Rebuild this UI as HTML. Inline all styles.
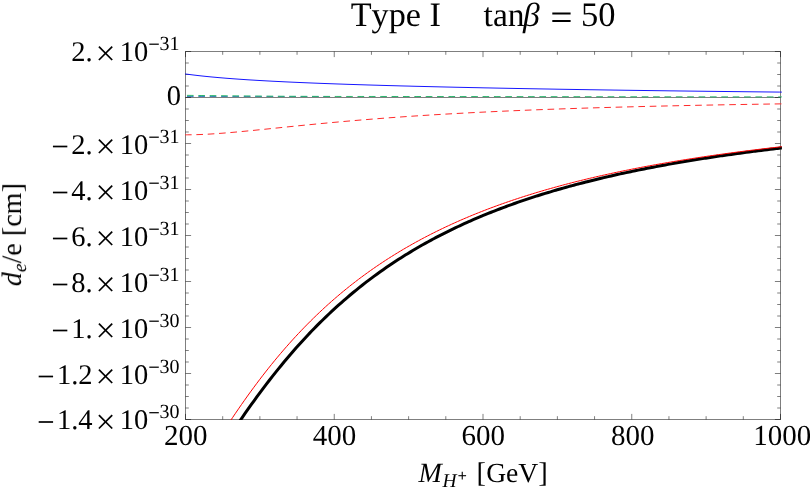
<!DOCTYPE html>
<html><head><meta charset="utf-8"><title>Type I tan beta = 50</title>
<style>html,body{margin:0;padding:0;background:#fff;}svg{display:block;}</style></head>
<body>
<svg width="810" height="489" viewBox="0 0 810 489">
<rect width="810" height="489" fill="#fff"/>
<g fill="none">
<rect x="185.50" y="51.50" width="595.00" height="368.00" stroke="#000" stroke-opacity="0.5" stroke-width="1"/>
<line x1="185.50" y1="97.50" x2="780.50" y2="97.50" stroke="#000" stroke-opacity="0.5" stroke-width="1"/>
<line x1="222.69" y1="419.50" x2="222.69" y2="416.20" stroke="#000" stroke-opacity="0.5" stroke-width="1"/>
<line x1="222.69" y1="51.50" x2="222.69" y2="54.80" stroke="#000" stroke-opacity="0.5" stroke-width="1"/>
<line x1="259.88" y1="419.50" x2="259.88" y2="416.20" stroke="#000" stroke-opacity="0.5" stroke-width="1"/>
<line x1="259.88" y1="51.50" x2="259.88" y2="54.80" stroke="#000" stroke-opacity="0.5" stroke-width="1"/>
<line x1="297.06" y1="419.50" x2="297.06" y2="416.20" stroke="#000" stroke-opacity="0.5" stroke-width="1"/>
<line x1="297.06" y1="51.50" x2="297.06" y2="54.80" stroke="#000" stroke-opacity="0.5" stroke-width="1"/>
<line x1="334.25" y1="419.50" x2="334.25" y2="413.90" stroke="#000" stroke-opacity="0.5" stroke-width="1"/>
<line x1="334.25" y1="51.50" x2="334.25" y2="57.10" stroke="#000" stroke-opacity="0.5" stroke-width="1"/>
<line x1="371.44" y1="419.50" x2="371.44" y2="416.20" stroke="#000" stroke-opacity="0.5" stroke-width="1"/>
<line x1="371.44" y1="51.50" x2="371.44" y2="54.80" stroke="#000" stroke-opacity="0.5" stroke-width="1"/>
<line x1="408.62" y1="419.50" x2="408.62" y2="416.20" stroke="#000" stroke-opacity="0.5" stroke-width="1"/>
<line x1="408.62" y1="51.50" x2="408.62" y2="54.80" stroke="#000" stroke-opacity="0.5" stroke-width="1"/>
<line x1="445.81" y1="419.50" x2="445.81" y2="416.20" stroke="#000" stroke-opacity="0.5" stroke-width="1"/>
<line x1="445.81" y1="51.50" x2="445.81" y2="54.80" stroke="#000" stroke-opacity="0.5" stroke-width="1"/>
<line x1="483.00" y1="419.50" x2="483.00" y2="413.90" stroke="#000" stroke-opacity="0.5" stroke-width="1"/>
<line x1="483.00" y1="51.50" x2="483.00" y2="57.10" stroke="#000" stroke-opacity="0.5" stroke-width="1"/>
<line x1="520.19" y1="419.50" x2="520.19" y2="416.20" stroke="#000" stroke-opacity="0.5" stroke-width="1"/>
<line x1="520.19" y1="51.50" x2="520.19" y2="54.80" stroke="#000" stroke-opacity="0.5" stroke-width="1"/>
<line x1="557.38" y1="419.50" x2="557.38" y2="416.20" stroke="#000" stroke-opacity="0.5" stroke-width="1"/>
<line x1="557.38" y1="51.50" x2="557.38" y2="54.80" stroke="#000" stroke-opacity="0.5" stroke-width="1"/>
<line x1="594.56" y1="419.50" x2="594.56" y2="416.20" stroke="#000" stroke-opacity="0.5" stroke-width="1"/>
<line x1="594.56" y1="51.50" x2="594.56" y2="54.80" stroke="#000" stroke-opacity="0.5" stroke-width="1"/>
<line x1="631.75" y1="419.50" x2="631.75" y2="413.90" stroke="#000" stroke-opacity="0.5" stroke-width="1"/>
<line x1="631.75" y1="51.50" x2="631.75" y2="57.10" stroke="#000" stroke-opacity="0.5" stroke-width="1"/>
<line x1="668.94" y1="419.50" x2="668.94" y2="416.20" stroke="#000" stroke-opacity="0.5" stroke-width="1"/>
<line x1="668.94" y1="51.50" x2="668.94" y2="54.80" stroke="#000" stroke-opacity="0.5" stroke-width="1"/>
<line x1="706.12" y1="419.50" x2="706.12" y2="416.20" stroke="#000" stroke-opacity="0.5" stroke-width="1"/>
<line x1="706.12" y1="51.50" x2="706.12" y2="54.80" stroke="#000" stroke-opacity="0.5" stroke-width="1"/>
<line x1="743.31" y1="419.50" x2="743.31" y2="416.20" stroke="#000" stroke-opacity="0.5" stroke-width="1"/>
<line x1="743.31" y1="51.50" x2="743.31" y2="54.80" stroke="#000" stroke-opacity="0.5" stroke-width="1"/>
<line x1="185.50" y1="419.50" x2="191.10" y2="419.50" stroke="#000" stroke-opacity="0.5" stroke-width="1"/>
<line x1="780.50" y1="419.50" x2="774.90" y2="419.50" stroke="#000" stroke-opacity="0.5" stroke-width="1"/>
<line x1="185.50" y1="408.00" x2="188.80" y2="408.00" stroke="#000" stroke-opacity="0.5" stroke-width="1"/>
<line x1="780.50" y1="408.00" x2="777.20" y2="408.00" stroke="#000" stroke-opacity="0.5" stroke-width="1"/>
<line x1="185.50" y1="396.50" x2="188.80" y2="396.50" stroke="#000" stroke-opacity="0.5" stroke-width="1"/>
<line x1="780.50" y1="396.50" x2="777.20" y2="396.50" stroke="#000" stroke-opacity="0.5" stroke-width="1"/>
<line x1="185.50" y1="385.00" x2="188.80" y2="385.00" stroke="#000" stroke-opacity="0.5" stroke-width="1"/>
<line x1="780.50" y1="385.00" x2="777.20" y2="385.00" stroke="#000" stroke-opacity="0.5" stroke-width="1"/>
<line x1="185.50" y1="373.50" x2="191.10" y2="373.50" stroke="#000" stroke-opacity="0.5" stroke-width="1"/>
<line x1="780.50" y1="373.50" x2="774.90" y2="373.50" stroke="#000" stroke-opacity="0.5" stroke-width="1"/>
<line x1="185.50" y1="362.00" x2="188.80" y2="362.00" stroke="#000" stroke-opacity="0.5" stroke-width="1"/>
<line x1="780.50" y1="362.00" x2="777.20" y2="362.00" stroke="#000" stroke-opacity="0.5" stroke-width="1"/>
<line x1="185.50" y1="350.50" x2="188.80" y2="350.50" stroke="#000" stroke-opacity="0.5" stroke-width="1"/>
<line x1="780.50" y1="350.50" x2="777.20" y2="350.50" stroke="#000" stroke-opacity="0.5" stroke-width="1"/>
<line x1="185.50" y1="339.00" x2="188.80" y2="339.00" stroke="#000" stroke-opacity="0.5" stroke-width="1"/>
<line x1="780.50" y1="339.00" x2="777.20" y2="339.00" stroke="#000" stroke-opacity="0.5" stroke-width="1"/>
<line x1="185.50" y1="327.50" x2="191.10" y2="327.50" stroke="#000" stroke-opacity="0.5" stroke-width="1"/>
<line x1="780.50" y1="327.50" x2="774.90" y2="327.50" stroke="#000" stroke-opacity="0.5" stroke-width="1"/>
<line x1="185.50" y1="316.00" x2="188.80" y2="316.00" stroke="#000" stroke-opacity="0.5" stroke-width="1"/>
<line x1="780.50" y1="316.00" x2="777.20" y2="316.00" stroke="#000" stroke-opacity="0.5" stroke-width="1"/>
<line x1="185.50" y1="304.50" x2="188.80" y2="304.50" stroke="#000" stroke-opacity="0.5" stroke-width="1"/>
<line x1="780.50" y1="304.50" x2="777.20" y2="304.50" stroke="#000" stroke-opacity="0.5" stroke-width="1"/>
<line x1="185.50" y1="293.00" x2="188.80" y2="293.00" stroke="#000" stroke-opacity="0.5" stroke-width="1"/>
<line x1="780.50" y1="293.00" x2="777.20" y2="293.00" stroke="#000" stroke-opacity="0.5" stroke-width="1"/>
<line x1="185.50" y1="281.50" x2="191.10" y2="281.50" stroke="#000" stroke-opacity="0.5" stroke-width="1"/>
<line x1="780.50" y1="281.50" x2="774.90" y2="281.50" stroke="#000" stroke-opacity="0.5" stroke-width="1"/>
<line x1="185.50" y1="270.00" x2="188.80" y2="270.00" stroke="#000" stroke-opacity="0.5" stroke-width="1"/>
<line x1="780.50" y1="270.00" x2="777.20" y2="270.00" stroke="#000" stroke-opacity="0.5" stroke-width="1"/>
<line x1="185.50" y1="258.50" x2="188.80" y2="258.50" stroke="#000" stroke-opacity="0.5" stroke-width="1"/>
<line x1="780.50" y1="258.50" x2="777.20" y2="258.50" stroke="#000" stroke-opacity="0.5" stroke-width="1"/>
<line x1="185.50" y1="247.00" x2="188.80" y2="247.00" stroke="#000" stroke-opacity="0.5" stroke-width="1"/>
<line x1="780.50" y1="247.00" x2="777.20" y2="247.00" stroke="#000" stroke-opacity="0.5" stroke-width="1"/>
<line x1="185.50" y1="235.50" x2="191.10" y2="235.50" stroke="#000" stroke-opacity="0.5" stroke-width="1"/>
<line x1="780.50" y1="235.50" x2="774.90" y2="235.50" stroke="#000" stroke-opacity="0.5" stroke-width="1"/>
<line x1="185.50" y1="224.00" x2="188.80" y2="224.00" stroke="#000" stroke-opacity="0.5" stroke-width="1"/>
<line x1="780.50" y1="224.00" x2="777.20" y2="224.00" stroke="#000" stroke-opacity="0.5" stroke-width="1"/>
<line x1="185.50" y1="212.50" x2="188.80" y2="212.50" stroke="#000" stroke-opacity="0.5" stroke-width="1"/>
<line x1="780.50" y1="212.50" x2="777.20" y2="212.50" stroke="#000" stroke-opacity="0.5" stroke-width="1"/>
<line x1="185.50" y1="201.00" x2="188.80" y2="201.00" stroke="#000" stroke-opacity="0.5" stroke-width="1"/>
<line x1="780.50" y1="201.00" x2="777.20" y2="201.00" stroke="#000" stroke-opacity="0.5" stroke-width="1"/>
<line x1="185.50" y1="189.50" x2="191.10" y2="189.50" stroke="#000" stroke-opacity="0.5" stroke-width="1"/>
<line x1="780.50" y1="189.50" x2="774.90" y2="189.50" stroke="#000" stroke-opacity="0.5" stroke-width="1"/>
<line x1="185.50" y1="178.00" x2="188.80" y2="178.00" stroke="#000" stroke-opacity="0.5" stroke-width="1"/>
<line x1="780.50" y1="178.00" x2="777.20" y2="178.00" stroke="#000" stroke-opacity="0.5" stroke-width="1"/>
<line x1="185.50" y1="166.50" x2="188.80" y2="166.50" stroke="#000" stroke-opacity="0.5" stroke-width="1"/>
<line x1="780.50" y1="166.50" x2="777.20" y2="166.50" stroke="#000" stroke-opacity="0.5" stroke-width="1"/>
<line x1="185.50" y1="155.00" x2="188.80" y2="155.00" stroke="#000" stroke-opacity="0.5" stroke-width="1"/>
<line x1="780.50" y1="155.00" x2="777.20" y2="155.00" stroke="#000" stroke-opacity="0.5" stroke-width="1"/>
<line x1="185.50" y1="143.50" x2="191.10" y2="143.50" stroke="#000" stroke-opacity="0.5" stroke-width="1"/>
<line x1="780.50" y1="143.50" x2="774.90" y2="143.50" stroke="#000" stroke-opacity="0.5" stroke-width="1"/>
<line x1="185.50" y1="132.00" x2="188.80" y2="132.00" stroke="#000" stroke-opacity="0.5" stroke-width="1"/>
<line x1="780.50" y1="132.00" x2="777.20" y2="132.00" stroke="#000" stroke-opacity="0.5" stroke-width="1"/>
<line x1="185.50" y1="120.50" x2="188.80" y2="120.50" stroke="#000" stroke-opacity="0.5" stroke-width="1"/>
<line x1="780.50" y1="120.50" x2="777.20" y2="120.50" stroke="#000" stroke-opacity="0.5" stroke-width="1"/>
<line x1="185.50" y1="109.00" x2="188.80" y2="109.00" stroke="#000" stroke-opacity="0.5" stroke-width="1"/>
<line x1="780.50" y1="109.00" x2="777.20" y2="109.00" stroke="#000" stroke-opacity="0.5" stroke-width="1"/>
<line x1="185.50" y1="97.50" x2="191.10" y2="97.50" stroke="#000" stroke-opacity="0.5" stroke-width="1"/>
<line x1="780.50" y1="97.50" x2="774.90" y2="97.50" stroke="#000" stroke-opacity="0.5" stroke-width="1"/>
<line x1="185.50" y1="86.00" x2="188.80" y2="86.00" stroke="#000" stroke-opacity="0.5" stroke-width="1"/>
<line x1="780.50" y1="86.00" x2="777.20" y2="86.00" stroke="#000" stroke-opacity="0.5" stroke-width="1"/>
<line x1="185.50" y1="74.50" x2="188.80" y2="74.50" stroke="#000" stroke-opacity="0.5" stroke-width="1"/>
<line x1="780.50" y1="74.50" x2="777.20" y2="74.50" stroke="#000" stroke-opacity="0.5" stroke-width="1"/>
<line x1="185.50" y1="63.00" x2="188.80" y2="63.00" stroke="#000" stroke-opacity="0.5" stroke-width="1"/>
<line x1="780.50" y1="63.00" x2="777.20" y2="63.00" stroke="#000" stroke-opacity="0.5" stroke-width="1"/>
<line x1="185.50" y1="51.50" x2="191.10" y2="51.50" stroke="#000" stroke-opacity="0.5" stroke-width="1"/>
<line x1="780.50" y1="51.50" x2="774.90" y2="51.50" stroke="#000" stroke-opacity="0.5" stroke-width="1"/>
<line x1="185.50" y1="419.50" x2="185.50" y2="413.90" stroke="#000" stroke-opacity="0.5" stroke-width="1"/>
<line x1="185.50" y1="51.50" x2="185.50" y2="57.10" stroke="#000" stroke-opacity="0.5" stroke-width="1"/>
<line x1="780.50" y1="419.50" x2="780.50" y2="413.90" stroke="#000" stroke-opacity="0.5" stroke-width="1"/>
<line x1="780.50" y1="51.50" x2="780.50" y2="57.10" stroke="#000" stroke-opacity="0.5" stroke-width="1"/>
</g>
<defs><clipPath id="pc"><rect x="185.00" y="51.50" width="596.90" height="368.40"/></clipPath></defs>
<g fill="none" clip-path="url(#pc)">
<path d="M185.00,73.90 C185.50,73.97 187.00,74.18 188.00,74.31 C189.00,74.44 190.00,74.57 191.00,74.70 C192.00,74.83 193.00,74.95 194.00,75.07 C195.00,75.19 196.00,75.31 197.00,75.43 C198.00,75.54 199.00,75.66 200.00,75.77 C201.00,75.88 202.00,75.99 203.00,76.10 C204.00,76.20 205.00,76.31 206.00,76.41 C207.00,76.51 208.00,76.61 209.00,76.71 C210.00,76.81 211.00,76.91 212.00,77.00 C213.00,77.10 214.00,77.19 215.00,77.28 C216.00,77.37 217.00,77.46 218.00,77.55 C219.00,77.64 220.00,77.72 221.00,77.81 C222.00,77.89 223.00,77.98 224.00,78.06 C225.00,78.14 226.00,78.22 227.00,78.30 C228.00,78.38 229.00,78.46 230.00,78.53 C231.00,78.61 232.00,78.69 233.00,78.76 C234.00,78.84 235.00,78.91 236.00,78.98 C237.00,79.05 238.00,79.12 239.00,79.19 C240.00,79.26 241.00,79.33 242.00,79.40 C243.00,79.47 244.00,79.54 245.00,79.60 C246.00,79.67 247.00,79.73 248.00,79.80 C249.00,79.86 250.00,79.92 251.00,79.99 C252.00,80.05 253.00,80.11 254.00,80.17 C255.00,80.23 256.00,80.29 257.00,80.35 C258.00,80.41 259.00,80.47 260.00,80.53 C261.00,80.58 262.00,80.64 263.00,80.70 C264.00,80.75 265.00,80.81 266.00,80.86 C267.00,80.92 268.00,80.97 269.00,81.03 C270.00,81.08 271.00,81.13 272.00,81.19 C273.00,81.24 274.00,81.29 275.00,81.34 C276.00,81.39 277.00,81.44 278.00,81.49 C279.00,81.54 280.00,81.59 281.00,81.64 C282.00,81.69 283.00,81.74 284.00,81.79 C285.00,81.84 286.00,81.88 287.00,81.93 C288.00,81.98 289.00,82.02 290.00,82.07 C291.00,82.12 292.00,82.16 293.00,82.21 C294.00,82.25 295.00,82.30 296.00,82.34 C297.00,82.39 298.00,82.43 299.00,82.47 C300.00,82.52 301.00,82.56 302.00,82.60 C303.00,82.64 304.00,82.69 305.00,82.73 C306.00,82.77 307.00,82.81 308.00,82.85 C309.00,82.89 310.00,82.94 311.00,82.98 C312.00,83.02 313.00,83.06 314.00,83.10 C315.00,83.14 316.00,83.17 317.00,83.21 C318.00,83.25 319.00,83.29 320.00,83.33 C321.00,83.37 322.00,83.41 323.00,83.44 C324.00,83.48 325.00,83.52 326.00,83.56 C327.00,83.59 328.00,83.63 329.00,83.67 C330.00,83.70 331.00,83.74 332.00,83.78 C333.00,83.81 334.00,83.85 335.00,83.88 C336.00,83.92 337.00,83.95 338.00,83.99 C339.00,84.02 340.00,84.06 341.00,84.09 C342.00,84.13 343.00,84.16 344.00,84.20 C345.00,84.23 346.00,84.26 347.00,84.30 C348.00,84.33 349.00,84.36 350.00,84.40 C351.00,84.43 352.00,84.46 353.00,84.49 C354.00,84.53 355.00,84.56 356.00,84.59 C357.00,84.62 358.00,84.66 359.00,84.69 C360.00,84.72 361.00,84.75 362.00,84.78 C363.00,84.81 364.00,84.84 365.00,84.87 C366.00,84.90 367.00,84.94 368.00,84.97 C369.00,85.00 370.00,85.03 371.00,85.06 C372.00,85.09 373.00,85.12 374.00,85.15 C375.00,85.18 376.00,85.21 377.00,85.23 C378.00,85.26 379.00,85.29 380.00,85.32 C381.00,85.35 382.00,85.38 383.00,85.41 C384.00,85.44 385.00,85.47 386.00,85.49 C387.00,85.52 388.00,85.55 389.00,85.58 C390.00,85.61 391.00,85.63 392.00,85.66 C393.00,85.69 394.00,85.72 395.00,85.74 C396.00,85.77 397.00,85.80 398.00,85.82 C399.00,85.85 400.00,85.88 401.00,85.91 C402.00,85.93 403.00,85.96 404.00,85.99 C405.00,86.01 406.00,86.04 407.00,86.06 C408.00,86.09 409.00,86.12 410.00,86.14 C411.00,86.17 412.00,86.19 413.00,86.22 C414.00,86.24 415.00,86.27 416.00,86.30 C417.00,86.32 418.00,86.35 419.00,86.37 C420.00,86.40 421.00,86.42 422.00,86.45 C423.00,86.47 424.00,86.49 425.00,86.52 C426.00,86.54 427.00,86.57 428.00,86.59 C429.00,86.62 430.00,86.64 431.00,86.66 C432.00,86.69 433.00,86.71 434.00,86.74 C435.00,86.76 436.00,86.78 437.00,86.81 C438.00,86.83 439.00,86.85 440.00,86.88 C441.00,86.90 442.00,86.92 443.00,86.95 C444.00,86.97 445.00,86.99 446.00,87.02 C447.00,87.04 448.00,87.06 449.00,87.08 C450.00,87.11 451.00,87.13 452.00,87.15 C453.00,87.17 454.00,87.20 455.00,87.22 C456.00,87.24 457.00,87.26 458.00,87.29 C459.00,87.31 460.00,87.33 461.00,87.35 C462.00,87.37 463.00,87.39 464.00,87.42 C465.00,87.44 466.00,87.46 467.00,87.48 C468.00,87.50 469.00,87.52 470.00,87.55 C471.00,87.57 472.00,87.59 473.00,87.61 C474.00,87.63 475.00,87.65 476.00,87.67 C477.00,87.69 478.00,87.71 479.00,87.73 C480.00,87.75 481.00,87.78 482.00,87.80 C483.00,87.82 484.00,87.84 485.00,87.86 C486.00,87.88 487.00,87.90 488.00,87.92 C489.00,87.94 490.00,87.96 491.00,87.98 C492.00,88.00 493.00,88.02 494.00,88.04 C495.00,88.06 496.00,88.08 497.00,88.10 C498.00,88.12 499.00,88.14 500.00,88.16 C501.00,88.18 502.00,88.19 503.00,88.21 C504.00,88.23 505.00,88.25 506.00,88.27 C507.00,88.29 508.00,88.31 509.00,88.33 C510.00,88.35 511.00,88.37 512.00,88.39 C513.00,88.40 514.00,88.42 515.00,88.44 C516.00,88.46 517.00,88.48 518.00,88.50 C519.00,88.52 520.00,88.53 521.00,88.55 C522.00,88.57 523.00,88.59 524.00,88.61 C525.00,88.63 526.00,88.64 527.00,88.66 C528.00,88.68 529.00,88.70 530.00,88.72 C531.00,88.73 532.00,88.75 533.00,88.77 C534.00,88.79 535.00,88.81 536.00,88.82 C537.00,88.84 538.00,88.86 539.00,88.88 C540.00,88.89 541.00,88.91 542.00,88.93 C543.00,88.95 544.00,88.96 545.00,88.98 C546.00,89.00 547.00,89.02 548.00,89.03 C549.00,89.05 550.00,89.07 551.00,89.08 C552.00,89.10 553.00,89.12 554.00,89.14 C555.00,89.15 556.00,89.17 557.00,89.19 C558.00,89.20 559.00,89.22 560.00,89.24 C561.00,89.25 562.00,89.27 563.00,89.29 C564.00,89.30 565.00,89.32 566.00,89.33 C567.00,89.35 568.00,89.37 569.00,89.38 C570.00,89.40 571.00,89.42 572.00,89.43 C573.00,89.45 574.00,89.46 575.00,89.48 C576.00,89.50 577.00,89.51 578.00,89.53 C579.00,89.54 580.00,89.56 581.00,89.58 C582.00,89.59 583.00,89.61 584.00,89.62 C585.00,89.64 586.00,89.65 587.00,89.67 C588.00,89.69 589.00,89.70 590.00,89.72 C591.00,89.73 592.00,89.75 593.00,89.76 C594.00,89.78 595.00,89.79 596.00,89.81 C597.00,89.82 598.00,89.84 599.00,89.85 C600.00,89.87 601.00,89.88 602.00,89.90 C603.00,89.91 604.00,89.93 605.00,89.94 C606.00,89.96 607.00,89.97 608.00,89.99 C609.00,90.00 610.00,90.02 611.00,90.03 C612.00,90.05 613.00,90.06 614.00,90.08 C615.00,90.09 616.00,90.11 617.00,90.12 C618.00,90.13 619.00,90.15 620.00,90.16 C621.00,90.18 622.00,90.19 623.00,90.21 C624.00,90.22 625.00,90.24 626.00,90.25 C627.00,90.26 628.00,90.28 629.00,90.29 C630.00,90.31 631.00,90.32 632.00,90.33 C633.00,90.35 634.00,90.36 635.00,90.38 C636.00,90.39 637.00,90.40 638.00,90.42 C639.00,90.43 640.00,90.44 641.00,90.46 C642.00,90.47 643.00,90.49 644.00,90.50 C645.00,90.51 646.00,90.53 647.00,90.54 C648.00,90.55 649.00,90.57 650.00,90.58 C651.00,90.59 652.00,90.61 653.00,90.62 C654.00,90.63 655.00,90.65 656.00,90.66 C657.00,90.67 658.00,90.69 659.00,90.70 C660.00,90.71 661.00,90.73 662.00,90.74 C663.00,90.75 664.00,90.77 665.00,90.78 C666.00,90.79 667.00,90.80 668.00,90.82 C669.00,90.83 670.00,90.84 671.00,90.86 C672.00,90.87 673.00,90.88 674.00,90.89 C675.00,90.91 676.00,90.92 677.00,90.93 C678.00,90.94 679.00,90.96 680.00,90.97 C681.00,90.98 682.00,90.99 683.00,91.01 C684.00,91.02 685.00,91.03 686.00,91.04 C687.00,91.06 688.00,91.07 689.00,91.08 C690.00,91.09 691.00,91.11 692.00,91.12 C693.00,91.13 694.00,91.14 695.00,91.15 C696.00,91.17 697.00,91.18 698.00,91.19 C699.00,91.20 700.00,91.22 701.00,91.23 C702.00,91.24 703.00,91.25 704.00,91.26 C705.00,91.27 706.00,91.29 707.00,91.30 C708.00,91.31 709.00,91.32 710.00,91.33 C711.00,91.35 712.00,91.36 713.00,91.37 C714.00,91.38 715.00,91.39 716.00,91.40 C717.00,91.42 718.00,91.43 719.00,91.44 C720.00,91.45 721.00,91.46 722.00,91.47 C723.00,91.48 724.00,91.50 725.00,91.51 C726.00,91.52 727.00,91.53 728.00,91.54 C729.00,91.55 730.00,91.56 731.00,91.57 C732.00,91.59 733.00,91.60 734.00,91.61 C735.00,91.62 736.00,91.63 737.00,91.64 C738.00,91.65 739.00,91.66 740.00,91.67 C741.00,91.69 742.00,91.70 743.00,91.71 C744.00,91.72 745.00,91.73 746.00,91.74 C747.00,91.75 748.00,91.76 749.00,91.77 C750.00,91.78 751.00,91.79 752.00,91.80 C753.00,91.82 754.00,91.83 755.00,91.84 C756.00,91.85 757.00,91.86 758.00,91.87 C759.00,91.88 760.00,91.89 761.00,91.90 C762.00,91.91 763.00,91.92 764.00,91.93 C765.00,91.94 766.00,91.95 767.00,91.96 C768.00,91.97 769.00,91.98 770.00,91.99 C771.00,92.00 772.00,92.01 773.00,92.02 C774.00,92.04 775.00,92.05 776.00,92.06 C777.00,92.07 778.00,92.08 779.00,92.09 C780.00,92.10 781.50,92.11 782.00,92.12" stroke="#0000ff" stroke-width="0.92"/>
<path d="M186.95,96.50 L191.95,96.50 L196.95,96.50 L201.95,96.50 L206.95,96.50 L211.95,96.50 L216.95,96.50 L221.95,96.50 L226.95,96.50 L231.95,96.50 L236.95,96.50 L241.95,96.50 L246.95,96.50 L251.95,96.50 L256.95,96.50 L261.95,96.50 L266.95,96.50 L271.95,96.50 L276.95,96.50 L281.95,96.50 L286.95,96.50 L291.95,96.50 L296.95,96.50 L301.95,96.50 L306.95,96.50 L311.95,96.50 L316.95,96.50 L321.95,96.50 L326.95,96.50 L331.95,96.50" stroke="#3c82be" stroke-width="1" stroke-dasharray="6.65 4.72"/>
<path d="M186.95,95.36 L191.95,95.42 L196.95,95.47 L201.95,95.52 L206.95,95.57 L211.95,95.62 L216.95,95.67 L221.95,95.72 L226.95,95.77 L231.95,95.82 L236.95,95.86 L241.95,95.90 L246.95,95.95 L251.95,95.99 L256.95,96.03 L261.95,96.08 L266.95,96.12 L271.95,96.16 L276.95,96.20 L281.95,96.25 L286.95,96.27 L291.95,96.29 L296.95,96.31 L301.95,96.33 L306.95,96.35 L311.95,96.36 L316.95,96.38 L321.95,96.40 L326.95,96.42 L331.95,96.44 L336.95,96.45 L341.95,96.46 L346.95,96.46 L351.95,96.46 L356.95,96.47 L361.95,96.47 L366.95,96.47 L371.95,96.48 L376.95,96.48 L381.95,96.48 L386.95,96.49 L391.95,96.49 L396.95,96.49 L401.95,96.50 L406.95,96.50 L411.95,96.50 L416.95,96.51 L421.95,96.51 L426.95,96.52 L431.95,96.52 L436.95,96.53 L441.95,96.53 L446.95,96.53 L451.95,96.54 L456.95,96.54 L461.95,96.55 L466.95,96.55 L471.95,96.56 L476.95,96.56 L481.95,96.57 L486.95,96.57 L491.95,96.57 L496.95,96.58 L501.95,96.59 L506.95,96.59 L511.95,96.60 L516.95,96.60 L521.95,96.61 L526.95,96.62 L531.95,96.62 L536.95,96.63 L541.95,96.64 L546.95,96.64 L551.95,96.65 L556.95,96.66 L561.95,96.66 L566.95,96.67 L571.95,96.67 L576.95,96.68 L581.95,96.69 L586.95,96.69 L591.95,96.70 L596.95,96.71 L601.95,96.71 L606.95,96.72 L611.95,96.72 L616.95,96.73 L621.95,96.74 L626.95,96.74 L631.95,96.75 L636.95,96.76 L641.95,96.76 L646.95,96.77 L651.95,96.77 L656.95,96.78 L661.95,96.78 L666.95,96.79 L671.95,96.80 L676.95,96.80 L681.95,96.81 L686.95,96.81 L691.95,96.82 L696.95,96.82 L701.95,96.83 L706.95,96.84 L711.95,96.84 L716.95,96.85 L721.95,96.85 L726.95,96.86 L731.95,96.86 L736.95,96.87 L741.95,96.88 L746.95,96.88 L751.95,96.89 L756.95,96.89 L761.95,96.90 L766.95,96.90 L771.95,96.91 L776.95,96.92 L781.95,96.92" stroke="#2ab46c" stroke-width="1" stroke-dasharray="6.65 4.72"/>
<path d="M185.00,134.81 C185.50,134.81 187.00,134.82 188.00,134.81 C189.00,134.81 190.00,134.80 191.00,134.78 C192.00,134.77 193.00,134.75 194.00,134.73 C195.00,134.70 196.00,134.68 197.00,134.64 C198.00,134.61 199.00,134.58 200.00,134.54 C201.00,134.50 202.00,134.46 203.00,134.41 C204.00,134.37 205.00,134.32 206.00,134.27 C207.00,134.22 208.00,134.16 209.00,134.11 C210.00,134.05 211.00,133.99 212.00,133.93 C213.00,133.87 214.00,133.80 215.00,133.73 C216.00,133.67 217.00,133.60 218.00,133.53 C219.00,133.45 220.00,133.38 221.00,133.31 C222.00,133.23 223.00,133.15 224.00,133.07 C225.00,132.99 226.00,132.91 227.00,132.83 C228.00,132.75 229.00,132.66 230.00,132.58 C231.00,132.49 232.00,132.41 233.00,132.32 C234.00,132.23 235.00,132.14 236.00,132.05 C237.00,131.96 238.00,131.87 239.00,131.78 C240.00,131.68 241.00,131.59 242.00,131.49 C243.00,131.40 244.00,131.31 245.00,131.21 C246.00,131.11 247.00,131.02 248.00,130.92 C249.00,130.82 250.00,130.72 251.00,130.62 C252.00,130.52 253.00,130.43 254.00,130.33 C255.00,130.23 256.00,130.13 257.00,130.02 C258.00,129.92 259.00,129.82 260.00,129.72 C261.00,129.62 262.00,129.52 263.00,129.42 C264.00,129.31 265.00,129.21 266.00,129.11 C267.00,129.01 268.00,128.90 269.00,128.80 C270.00,128.70 271.00,128.60 272.00,128.49 C273.00,128.39 274.00,128.29 275.00,128.18 C276.00,128.08 277.00,127.98 278.00,127.88 C279.00,127.77 280.00,127.67 281.00,127.57 C282.00,127.46 283.00,127.36 284.00,127.26 C285.00,127.16 286.00,127.05 287.00,126.95 C288.00,126.85 289.00,126.75 290.00,126.64 C291.00,126.54 292.00,126.44 293.00,126.34 C294.00,126.24 295.00,126.14 296.00,126.03 C297.00,125.93 298.00,125.83 299.00,125.73 C300.00,125.63 301.00,125.53 302.00,125.43 C303.00,125.33 304.00,125.23 305.00,125.13 C306.00,125.03 307.00,124.93 308.00,124.84 C309.00,124.74 310.00,124.64 311.00,124.54 C312.00,124.44 313.00,124.35 314.00,124.25 C315.00,124.15 316.00,124.05 317.00,123.96 C318.00,123.86 319.00,123.77 320.00,123.67 C321.00,123.57 322.00,123.48 323.00,123.38 C324.00,123.29 325.00,123.20 326.00,123.10 C327.00,123.01 328.00,122.91 329.00,122.82 C330.00,122.73 331.00,122.64 332.00,122.54 C333.00,122.45 334.00,122.36 335.00,122.27 C336.00,122.18 337.00,122.09 338.00,122.00 C339.00,121.91 340.00,121.82 341.00,121.73 C342.00,121.64 343.00,121.55 344.00,121.46 C345.00,121.37 346.00,121.29 347.00,121.20 C348.00,121.11 349.00,121.02 350.00,120.94 C351.00,120.85 352.00,120.77 353.00,120.68 C354.00,120.59 355.00,120.51 356.00,120.43 C357.00,120.34 358.00,120.26 359.00,120.17 C360.00,120.09 361.00,120.01 362.00,119.92 C363.00,119.84 364.00,119.76 365.00,119.68 C366.00,119.60 367.00,119.52 368.00,119.44 C369.00,119.35 370.00,119.27 371.00,119.20 C372.00,119.12 373.00,119.04 374.00,118.96 C375.00,118.88 376.00,118.80 377.00,118.72 C378.00,118.65 379.00,118.57 380.00,118.49 C381.00,118.42 382.00,118.34 383.00,118.26 C384.00,118.19 385.00,118.11 386.00,118.04 C387.00,117.96 388.00,117.89 389.00,117.81 C390.00,117.74 391.00,117.67 392.00,117.59 C393.00,117.52 394.00,117.45 395.00,117.38 C396.00,117.31 397.00,117.23 398.00,117.16 C399.00,117.09 400.00,117.02 401.00,116.95 C402.00,116.88 403.00,116.81 404.00,116.74 C405.00,116.67 406.00,116.60 407.00,116.54 C408.00,116.47 409.00,116.40 410.00,116.33 C411.00,116.26 412.00,116.20 413.00,116.13 C414.00,116.06 415.00,116.00 416.00,115.93 C417.00,115.87 418.00,115.80 419.00,115.74 C420.00,115.67 421.00,115.61 422.00,115.54 C423.00,115.48 424.00,115.42 425.00,115.35 C426.00,115.29 427.00,115.23 428.00,115.16 C429.00,115.10 430.00,115.04 431.00,114.98 C432.00,114.92 433.00,114.86 434.00,114.80 C435.00,114.73 436.00,114.67 437.00,114.61 C438.00,114.55 439.00,114.50 440.00,114.44 C441.00,114.38 442.00,114.32 443.00,114.26 C444.00,114.20 445.00,114.14 446.00,114.09 C447.00,114.03 448.00,113.97 449.00,113.92 C450.00,113.86 451.00,113.80 452.00,113.75 C453.00,113.69 454.00,113.63 455.00,113.58 C456.00,113.52 457.00,113.47 458.00,113.41 C459.00,113.36 460.00,113.31 461.00,113.25 C462.00,113.20 463.00,113.15 464.00,113.09 C465.00,113.04 466.00,112.99 467.00,112.93 C468.00,112.88 469.00,112.83 470.00,112.78 C471.00,112.73 472.00,112.68 473.00,112.62 C474.00,112.57 475.00,112.52 476.00,112.47 C477.00,112.42 478.00,112.37 479.00,112.32 C480.00,112.27 481.00,112.22 482.00,112.18 C483.00,112.13 484.00,112.08 485.00,112.03 C486.00,111.98 487.00,111.93 488.00,111.89 C489.00,111.84 490.00,111.79 491.00,111.74 C492.00,111.70 493.00,111.65 494.00,111.60 C495.00,111.56 496.00,111.51 497.00,111.46 C498.00,111.42 499.00,111.37 500.00,111.33 C501.00,111.28 502.00,111.24 503.00,111.19 C504.00,111.15 505.00,111.11 506.00,111.06 C507.00,111.02 508.00,110.97 509.00,110.93 C510.00,110.89 511.00,110.84 512.00,110.80 C513.00,110.76 514.00,110.72 515.00,110.67 C516.00,110.63 517.00,110.59 518.00,110.55 C519.00,110.51 520.00,110.46 521.00,110.42 C522.00,110.38 523.00,110.34 524.00,110.30 C525.00,110.26 526.00,110.22 527.00,110.18 C528.00,110.14 529.00,110.10 530.00,110.06 C531.00,110.02 532.00,109.98 533.00,109.94 C534.00,109.90 535.00,109.86 536.00,109.82 C537.00,109.79 538.00,109.75 539.00,109.71 C540.00,109.67 541.00,109.63 542.00,109.60 C543.00,109.56 544.00,109.52 545.00,109.48 C546.00,109.45 547.00,109.41 548.00,109.37 C549.00,109.34 550.00,109.30 551.00,109.26 C552.00,109.23 553.00,109.19 554.00,109.16 C555.00,109.12 556.00,109.09 557.00,109.05 C558.00,109.02 559.00,108.98 560.00,108.95 C561.00,108.91 562.00,108.88 563.00,108.84 C564.00,108.81 565.00,108.77 566.00,108.74 C567.00,108.71 568.00,108.67 569.00,108.64 C570.00,108.61 571.00,108.57 572.00,108.54 C573.00,108.51 574.00,108.47 575.00,108.44 C576.00,108.41 577.00,108.38 578.00,108.34 C579.00,108.31 580.00,108.28 581.00,108.25 C582.00,108.22 583.00,108.18 584.00,108.15 C585.00,108.12 586.00,108.09 587.00,108.06 C588.00,108.03 589.00,108.00 590.00,107.97 C591.00,107.94 592.00,107.91 593.00,107.88 C594.00,107.85 595.00,107.82 596.00,107.79 C597.00,107.76 598.00,107.73 599.00,107.70 C600.00,107.67 601.00,107.64 602.00,107.61 C603.00,107.58 604.00,107.55 605.00,107.52 C606.00,107.49 607.00,107.46 608.00,107.44 C609.00,107.41 610.00,107.38 611.00,107.35 C612.00,107.32 613.00,107.30 614.00,107.27 C615.00,107.24 616.00,107.21 617.00,107.18 C618.00,107.16 619.00,107.13 620.00,107.10 C621.00,107.08 622.00,107.05 623.00,107.02 C624.00,107.00 625.00,106.97 626.00,106.94 C627.00,106.92 628.00,106.89 629.00,106.86 C630.00,106.84 631.00,106.81 632.00,106.79 C633.00,106.76 634.00,106.74 635.00,106.71 C636.00,106.68 637.00,106.66 638.00,106.63 C639.00,106.61 640.00,106.58 641.00,106.56 C642.00,106.53 643.00,106.51 644.00,106.48 C645.00,106.46 646.00,106.44 647.00,106.41 C648.00,106.39 649.00,106.36 650.00,106.34 C651.00,106.32 652.00,106.29 653.00,106.27 C654.00,106.24 655.00,106.22 656.00,106.20 C657.00,106.17 658.00,106.15 659.00,106.13 C660.00,106.10 661.00,106.08 662.00,106.06 C663.00,106.04 664.00,106.01 665.00,105.99 C666.00,105.97 667.00,105.95 668.00,105.92 C669.00,105.90 670.00,105.88 671.00,105.86 C672.00,105.83 673.00,105.81 674.00,105.79 C675.00,105.77 676.00,105.75 677.00,105.73 C678.00,105.70 679.00,105.68 680.00,105.66 C681.00,105.64 682.00,105.62 683.00,105.60 C684.00,105.58 685.00,105.56 686.00,105.53 C687.00,105.51 688.00,105.49 689.00,105.47 C690.00,105.45 691.00,105.43 692.00,105.41 C693.00,105.39 694.00,105.37 695.00,105.35 C696.00,105.33 697.00,105.31 698.00,105.29 C699.00,105.27 700.00,105.25 701.00,105.23 C702.00,105.21 703.00,105.19 704.00,105.17 C705.00,105.15 706.00,105.13 707.00,105.11 C708.00,105.10 709.00,105.08 710.00,105.06 C711.00,105.04 712.00,105.02 713.00,105.00 C714.00,104.98 715.00,104.96 716.00,104.94 C717.00,104.93 718.00,104.91 719.00,104.89 C720.00,104.87 721.00,104.85 722.00,104.83 C723.00,104.82 724.00,104.80 725.00,104.78 C726.00,104.76 727.00,104.74 728.00,104.73 C729.00,104.71 730.00,104.69 731.00,104.67 C732.00,104.66 733.00,104.64 734.00,104.62 C735.00,104.60 736.00,104.59 737.00,104.57 C738.00,104.55 739.00,104.54 740.00,104.52 C741.00,104.50 742.00,104.48 743.00,104.47 C744.00,104.45 745.00,104.43 746.00,104.42 C747.00,104.40 748.00,104.38 749.00,104.37 C750.00,104.35 751.00,104.33 752.00,104.32 C753.00,104.30 754.00,104.29 755.00,104.27 C756.00,104.25 757.00,104.24 758.00,104.22 C759.00,104.21 760.00,104.19 761.00,104.17 C762.00,104.16 763.00,104.14 764.00,104.13 C765.00,104.11 766.00,104.10 767.00,104.08 C768.00,104.07 769.00,104.05 770.00,104.03 C771.00,104.02 772.00,104.00 773.00,103.99 C774.00,103.97 775.00,103.96 776.00,103.94 C777.00,103.93 778.00,103.91 779.00,103.90 C780.00,103.89 781.50,103.86 782.00,103.86" stroke="#ff2a2a" stroke-width="1" stroke-dasharray="6.65 4.71" />
<path d="M236.00,426.04 C236.50,425.30 238.00,423.10 239.00,421.64 C240.00,420.18 241.00,418.72 242.00,417.28 C243.00,415.83 244.00,414.39 245.00,412.96 C246.00,411.53 247.00,410.11 248.00,408.70 C249.00,407.28 250.00,405.87 251.00,404.48 C252.00,403.08 253.00,401.69 254.00,400.31 C255.00,398.93 256.00,397.56 257.00,396.19 C258.00,394.83 259.00,393.47 260.00,392.13 C261.00,390.78 262.00,389.45 263.00,388.12 C264.00,386.79 265.00,385.47 266.00,384.16 C267.00,382.85 268.00,381.55 269.00,380.26 C270.00,378.96 271.00,377.68 272.00,376.41 C273.00,375.13 274.00,373.87 275.00,372.61 C276.00,371.36 277.00,370.11 278.00,368.88 C279.00,367.64 280.00,366.41 281.00,365.19 C282.00,363.97 283.00,362.76 284.00,361.56 C285.00,360.36 286.00,359.17 287.00,357.99 C288.00,356.81 289.00,355.63 290.00,354.47 C291.00,353.31 292.00,352.15 293.00,351.00 C294.00,349.86 295.00,348.72 296.00,347.59 C297.00,346.46 298.00,345.34 299.00,344.23 C300.00,343.12 301.00,342.02 302.00,340.93 C303.00,339.84 304.00,338.75 305.00,337.68 C306.00,336.60 307.00,335.53 308.00,334.47 C309.00,333.42 310.00,332.37 311.00,331.32 C312.00,330.28 313.00,329.25 314.00,328.23 C315.00,327.20 316.00,326.18 317.00,325.18 C318.00,324.17 319.00,323.17 320.00,322.18 C321.00,321.19 322.00,320.20 323.00,319.23 C324.00,318.25 325.00,317.28 326.00,316.32 C327.00,315.36 328.00,314.41 329.00,313.47 C330.00,312.53 331.00,311.59 332.00,310.66 C333.00,309.73 334.00,308.81 335.00,307.90 C336.00,306.99 337.00,306.08 338.00,305.18 C339.00,304.29 340.00,303.40 341.00,302.51 C342.00,301.63 343.00,300.75 344.00,299.88 C345.00,299.02 346.00,298.15 347.00,297.30 C348.00,296.45 349.00,295.60 350.00,294.76 C351.00,293.92 352.00,293.09 353.00,292.26 C354.00,291.43 355.00,290.61 356.00,289.80 C357.00,288.99 358.00,288.18 359.00,287.38 C360.00,286.58 361.00,285.79 362.00,285.01 C363.00,284.22 364.00,283.44 365.00,282.67 C366.00,281.89 367.00,281.13 368.00,280.37 C369.00,279.61 370.00,278.85 371.00,278.10 C372.00,277.36 373.00,276.61 374.00,275.88 C375.00,275.14 376.00,274.41 377.00,273.69 C378.00,272.97 379.00,272.25 380.00,271.54 C381.00,270.83 382.00,270.12 383.00,269.42 C384.00,268.72 385.00,268.03 386.00,267.34 C387.00,266.65 388.00,265.97 389.00,265.29 C390.00,264.61 391.00,263.94 392.00,263.27 C393.00,262.61 394.00,261.95 395.00,261.29 C396.00,260.63 397.00,259.98 398.00,259.34 C399.00,258.69 400.00,258.05 401.00,257.42 C402.00,256.79 403.00,256.16 404.00,255.53 C405.00,254.91 406.00,254.29 407.00,253.67 C408.00,253.06 409.00,252.45 410.00,251.85 C411.00,251.24 412.00,250.64 413.00,250.05 C414.00,249.45 415.00,248.86 416.00,248.28 C417.00,247.69 418.00,247.11 419.00,246.54 C420.00,245.96 421.00,245.39 422.00,244.82 C423.00,244.26 424.00,243.69 425.00,243.14 C426.00,242.58 427.00,242.03 428.00,241.48 C429.00,240.93 430.00,240.38 431.00,239.84 C432.00,239.30 433.00,238.77 434.00,238.23 C435.00,237.70 436.00,237.18 437.00,236.65 C438.00,236.13 439.00,235.61 440.00,235.09 C441.00,234.58 442.00,234.07 443.00,233.56 C444.00,233.05 445.00,232.55 446.00,232.05 C447.00,231.55 448.00,231.06 449.00,230.56 C450.00,230.07 451.00,229.58 452.00,229.10 C453.00,228.62 454.00,228.14 455.00,227.66 C456.00,227.18 457.00,226.71 458.00,226.24 C459.00,225.77 460.00,225.31 461.00,224.84 C462.00,224.38 463.00,223.92 464.00,223.47 C465.00,223.01 466.00,222.56 467.00,222.11 C468.00,221.67 469.00,221.22 470.00,220.78 C471.00,220.34 472.00,219.90 473.00,219.47 C474.00,219.03 475.00,218.60 476.00,218.17 C477.00,217.74 478.00,217.32 479.00,216.90 C480.00,216.48 481.00,216.06 482.00,215.64 C483.00,215.23 484.00,214.81 485.00,214.41 C486.00,214.00 487.00,213.59 488.00,213.19 C489.00,212.78 490.00,212.38 491.00,211.99 C492.00,211.59 493.00,211.20 494.00,210.80 C495.00,210.41 496.00,210.02 497.00,209.64 C498.00,209.25 499.00,208.87 500.00,208.49 C501.00,208.11 502.00,207.73 503.00,207.36 C504.00,206.99 505.00,206.61 506.00,206.24 C507.00,205.88 508.00,205.51 509.00,205.15 C510.00,204.78 511.00,204.42 512.00,204.06 C513.00,203.71 514.00,203.35 515.00,203.00 C516.00,202.64 517.00,202.29 518.00,201.95 C519.00,201.60 520.00,201.25 521.00,200.91 C522.00,200.57 523.00,200.23 524.00,199.89 C525.00,199.55 526.00,199.21 527.00,198.88 C528.00,198.55 529.00,198.22 530.00,197.89 C531.00,197.56 532.00,197.23 533.00,196.91 C534.00,196.58 535.00,196.26 536.00,195.94 C537.00,195.62 538.00,195.31 539.00,194.99 C540.00,194.68 541.00,194.36 542.00,194.05 C543.00,193.74 544.00,193.43 545.00,193.13 C546.00,192.82 547.00,192.52 548.00,192.22 C549.00,191.91 550.00,191.61 551.00,191.32 C552.00,191.02 553.00,190.72 554.00,190.43 C555.00,190.14 556.00,189.84 557.00,189.55 C558.00,189.27 559.00,188.98 560.00,188.69 C561.00,188.41 562.00,188.12 563.00,187.84 C564.00,187.56 565.00,187.28 566.00,187.00 C567.00,186.72 568.00,186.45 569.00,186.17 C570.00,185.90 571.00,185.63 572.00,185.36 C573.00,185.09 574.00,184.82 575.00,184.55 C576.00,184.28 577.00,184.02 578.00,183.75 C579.00,183.49 580.00,183.23 581.00,182.97 C582.00,182.71 583.00,182.45 584.00,182.20 C585.00,181.94 586.00,181.69 587.00,181.43 C588.00,181.18 589.00,180.93 590.00,180.68 C591.00,180.43 592.00,180.18 593.00,179.94 C594.00,179.69 595.00,179.44 596.00,179.20 C597.00,178.96 598.00,178.72 599.00,178.48 C600.00,178.24 601.00,178.00 602.00,177.76 C603.00,177.53 604.00,177.29 605.00,177.06 C606.00,176.82 607.00,176.59 608.00,176.36 C609.00,176.13 610.00,175.90 611.00,175.67 C612.00,175.45 613.00,175.22 614.00,174.99 C615.00,174.77 616.00,174.55 617.00,174.32 C618.00,174.10 619.00,173.88 620.00,173.66 C621.00,173.44 622.00,173.23 623.00,173.01 C624.00,172.79 625.00,172.58 626.00,172.37 C627.00,172.15 628.00,171.94 629.00,171.73 C630.00,171.52 631.00,171.31 632.00,171.10 C633.00,170.89 634.00,170.69 635.00,170.48 C636.00,170.27 637.00,170.07 638.00,169.87 C639.00,169.66 640.00,169.46 641.00,169.26 C642.00,169.06 643.00,168.86 644.00,168.66 C645.00,168.47 646.00,168.27 647.00,168.07 C648.00,167.88 649.00,167.68 650.00,167.49 C651.00,167.30 652.00,167.11 653.00,166.92 C654.00,166.73 655.00,166.54 656.00,166.35 C657.00,166.16 658.00,165.97 659.00,165.79 C660.00,165.60 661.00,165.41 662.00,165.23 C663.00,165.05 664.00,164.86 665.00,164.68 C666.00,164.50 667.00,164.32 668.00,164.14 C669.00,163.96 670.00,163.78 671.00,163.61 C672.00,163.43 673.00,163.25 674.00,163.08 C675.00,162.90 676.00,162.73 677.00,162.56 C678.00,162.38 679.00,162.21 680.00,162.04 C681.00,161.87 682.00,161.70 683.00,161.53 C684.00,161.36 685.00,161.19 686.00,161.03 C687.00,160.86 688.00,160.69 689.00,160.53 C690.00,160.36 691.00,160.20 692.00,160.04 C693.00,159.87 694.00,159.71 695.00,159.55 C696.00,159.39 697.00,159.23 698.00,159.07 C699.00,158.91 700.00,158.75 701.00,158.60 C702.00,158.44 703.00,158.28 704.00,158.13 C705.00,157.97 706.00,157.82 707.00,157.66 C708.00,157.51 709.00,157.36 710.00,157.20 C711.00,157.05 712.00,156.90 713.00,156.75 C714.00,156.60 715.00,156.45 716.00,156.30 C717.00,156.15 718.00,156.01 719.00,155.86 C720.00,155.71 721.00,155.57 722.00,155.42 C723.00,155.28 724.00,155.13 725.00,154.99 C726.00,154.85 727.00,154.70 728.00,154.56 C729.00,154.42 730.00,154.28 731.00,154.14 C732.00,154.00 733.00,153.86 734.00,153.72 C735.00,153.58 736.00,153.44 737.00,153.31 C738.00,153.17 739.00,153.03 740.00,152.90 C741.00,152.76 742.00,152.63 743.00,152.49 C744.00,152.36 745.00,152.22 746.00,152.09 C747.00,151.96 748.00,151.83 749.00,151.70 C750.00,151.57 751.00,151.44 752.00,151.31 C753.00,151.18 754.00,151.05 755.00,150.92 C756.00,150.79 757.00,150.66 758.00,150.54 C759.00,150.41 760.00,150.28 761.00,150.16 C762.00,150.03 763.00,149.91 764.00,149.78 C765.00,149.66 766.00,149.54 767.00,149.41 C768.00,149.29 769.00,149.17 770.00,149.05 C771.00,148.92 772.00,148.80 773.00,148.68 C774.00,148.56 775.00,148.44 776.00,148.33 C777.00,148.21 778.00,148.09 779.00,147.97 C780.00,147.85 781.50,147.68 782.00,147.62" stroke="#000" stroke-width="3.0" transform="translate(0.2,0.25)"/>
<path d="M226.50,426.75 C227.00,425.99 228.50,423.71 229.50,422.20 C230.50,420.69 231.50,419.19 232.50,417.69 C233.50,416.20 234.50,414.72 235.50,413.25 C236.50,411.77 237.50,410.31 238.50,408.86 C239.50,407.40 240.50,405.96 241.50,404.52 C242.50,403.09 243.50,401.66 244.50,400.25 C245.50,398.83 246.50,397.42 247.50,396.03 C248.50,394.63 249.50,393.25 250.50,391.87 C251.50,390.50 252.50,389.13 253.50,387.77 C254.50,386.42 255.50,385.07 256.50,383.74 C257.50,382.40 258.50,381.08 259.50,379.76 C260.50,378.44 261.50,377.14 262.50,375.84 C263.50,374.55 264.50,373.26 265.50,371.99 C266.50,370.71 267.50,369.45 268.50,368.19 C269.50,366.94 270.50,365.69 271.50,364.46 C272.50,363.22 273.50,362.00 274.50,360.78 C275.50,359.56 276.50,358.36 277.50,357.16 C278.50,355.97 279.50,354.78 280.50,353.60 C281.50,352.43 282.50,351.26 283.50,350.10 C284.50,348.95 285.50,347.80 286.50,346.66 C287.50,345.52 288.50,344.39 289.50,343.27 C290.50,342.15 291.50,341.04 292.50,339.94 C293.50,338.84 294.50,337.75 295.50,336.67 C296.50,335.59 297.50,334.51 298.50,333.45 C299.50,332.38 300.50,331.33 301.50,330.28 C302.50,329.24 303.50,328.20 304.50,327.17 C305.50,326.14 306.50,325.12 307.50,324.11 C308.50,323.10 309.50,322.10 310.50,321.10 C311.50,320.11 312.50,319.12 313.50,318.14 C314.50,317.17 315.50,316.20 316.50,315.24 C317.50,314.27 318.50,313.32 319.50,312.38 C320.50,311.43 321.50,310.50 322.50,309.57 C323.50,308.64 324.50,307.72 325.50,306.81 C326.50,305.89 327.50,304.99 328.50,304.09 C329.50,303.19 330.50,302.30 331.50,301.42 C332.50,300.54 333.50,299.66 334.50,298.80 C335.50,297.93 336.50,297.07 337.50,296.22 C338.50,295.37 339.50,294.52 340.50,293.68 C341.50,292.84 342.50,292.01 343.50,291.19 C344.50,290.37 345.50,289.55 346.50,288.74 C347.50,287.93 348.50,287.13 349.50,286.33 C350.50,285.53 351.50,284.75 352.50,283.96 C353.50,283.18 354.50,282.40 355.50,281.63 C356.50,280.86 357.50,280.10 358.50,279.34 C359.50,278.59 360.50,277.84 361.50,277.09 C362.50,276.35 363.50,275.61 364.50,274.88 C365.50,274.15 366.50,273.42 367.50,272.70 C368.50,271.99 369.50,271.27 370.50,270.56 C371.50,269.86 372.50,269.16 373.50,268.46 C374.50,267.76 375.50,267.08 376.50,266.39 C377.50,265.71 378.50,265.03 379.50,264.36 C380.50,263.68 381.50,263.02 382.50,262.35 C383.50,261.69 384.50,261.04 385.50,260.39 C386.50,259.74 387.50,259.09 388.50,258.45 C389.50,257.81 390.50,257.18 391.50,256.55 C392.50,255.92 393.50,255.29 394.50,254.67 C395.50,254.05 396.50,253.44 397.50,252.83 C398.50,252.22 399.50,251.62 400.50,251.02 C401.50,250.42 402.50,249.82 403.50,249.23 C404.50,248.64 405.50,248.06 406.50,247.48 C407.50,246.90 408.50,246.32 409.50,245.75 C410.50,245.18 411.50,244.62 412.50,244.06 C413.50,243.49 414.50,242.94 415.50,242.38 C416.50,241.83 417.50,241.28 418.50,240.74 C419.50,240.20 420.50,239.66 421.50,239.12 C422.50,238.59 423.50,238.06 424.50,237.53 C425.50,237.00 426.50,236.48 427.50,235.96 C428.50,235.44 429.50,234.93 430.50,234.42 C431.50,233.91 432.50,233.40 433.50,232.90 C434.50,232.40 435.50,231.90 436.50,231.41 C437.50,230.91 438.50,230.42 439.50,229.93 C440.50,229.45 441.50,228.96 442.50,228.49 C443.50,228.01 444.50,227.53 445.50,227.06 C446.50,226.59 447.50,226.12 448.50,225.66 C449.50,225.19 450.50,224.73 451.50,224.27 C452.50,223.82 453.50,223.36 454.50,222.91 C455.50,222.46 456.50,222.01 457.50,221.57 C458.50,221.13 459.50,220.69 460.50,220.25 C461.50,219.81 462.50,219.38 463.50,218.95 C464.50,218.52 465.50,218.09 466.50,217.67 C467.50,217.25 468.50,216.83 469.50,216.41 C470.50,215.99 471.50,215.58 472.50,215.17 C473.50,214.76 474.50,214.35 475.50,213.94 C476.50,213.54 477.50,213.14 478.50,212.74 C479.50,212.34 480.50,211.94 481.50,211.55 C482.50,211.16 483.50,210.77 484.50,210.38 C485.50,209.99 486.50,209.61 487.50,209.23 C488.50,208.85 489.50,208.47 490.50,208.09 C491.50,207.72 492.50,207.34 493.50,206.97 C494.50,206.60 495.50,206.24 496.50,205.87 C497.50,205.51 498.50,205.14 499.50,204.78 C500.50,204.42 501.50,204.07 502.50,203.71 C503.50,203.36 504.50,203.01 505.50,202.66 C506.50,202.31 507.50,201.96 508.50,201.62 C509.50,201.27 510.50,200.93 511.50,200.59 C512.50,200.25 513.50,199.91 514.50,199.58 C515.50,199.25 516.50,198.91 517.50,198.58 C518.50,198.25 519.50,197.93 520.50,197.60 C521.50,197.28 522.50,196.95 523.50,196.63 C524.50,196.31 525.50,195.99 526.50,195.68 C527.50,195.36 528.50,195.05 529.50,194.74 C530.50,194.42 531.50,194.12 532.50,193.81 C533.50,193.50 534.50,193.20 535.50,192.89 C536.50,192.59 537.50,192.29 538.50,191.99 C539.50,191.69 540.50,191.39 541.50,191.10 C542.50,190.80 543.50,190.51 544.50,190.22 C545.50,189.93 546.50,189.64 547.50,189.36 C548.50,189.07 549.50,188.78 550.50,188.50 C551.50,188.22 552.50,187.94 553.50,187.66 C554.50,187.38 555.50,187.10 556.50,186.83 C557.50,186.55 558.50,186.28 559.50,186.01 C560.50,185.74 561.50,185.47 562.50,185.20 C563.50,184.93 564.50,184.66 565.50,184.40 C566.50,184.14 567.50,183.87 568.50,183.61 C569.50,183.35 570.50,183.09 571.50,182.84 C572.50,182.58 573.50,182.32 574.50,182.07 C575.50,181.81 576.50,181.56 577.50,181.31 C578.50,181.06 579.50,180.81 580.50,180.57 C581.50,180.32 582.50,180.07 583.50,179.83 C584.50,179.58 585.50,179.34 586.50,179.10 C587.50,178.86 588.50,178.62 589.50,178.38 C590.50,178.15 591.50,177.91 592.50,177.68 C593.50,177.44 594.50,177.21 595.50,176.98 C596.50,176.74 597.50,176.51 598.50,176.29 C599.50,176.06 600.50,175.83 601.50,175.60 C602.50,175.38 603.50,175.15 604.50,174.93 C605.50,174.71 606.50,174.49 607.50,174.27 C608.50,174.05 609.50,173.83 610.50,173.61 C611.50,173.40 612.50,173.18 613.50,172.96 C614.50,172.75 615.50,172.54 616.50,172.33 C617.50,172.11 618.50,171.90 619.50,171.69 C620.50,171.49 621.50,171.28 622.50,171.07 C623.50,170.86 624.50,170.66 625.50,170.46 C626.50,170.25 627.50,170.05 628.50,169.85 C629.50,169.65 630.50,169.45 631.50,169.25 C632.50,169.05 633.50,168.85 634.50,168.65 C635.50,168.46 636.50,168.26 637.50,168.07 C638.50,167.87 639.50,167.68 640.50,167.49 C641.50,167.30 642.50,167.11 643.50,166.92 C644.50,166.73 645.50,166.54 646.50,166.35 C647.50,166.17 648.50,165.98 649.50,165.80 C650.50,165.61 651.50,165.43 652.50,165.25 C653.50,165.06 654.50,164.88 655.50,164.70 C656.50,164.52 657.50,164.34 658.50,164.16 C659.50,163.99 660.50,163.81 661.50,163.63 C662.50,163.46 663.50,163.28 664.50,163.11 C665.50,162.93 666.50,162.76 667.50,162.59 C668.50,162.42 669.50,162.25 670.50,162.08 C671.50,161.91 672.50,161.74 673.50,161.57 C674.50,161.40 675.50,161.24 676.50,161.07 C677.50,160.90 678.50,160.74 679.50,160.58 C680.50,160.41 681.50,160.25 682.50,160.09 C683.50,159.92 684.50,159.76 685.50,159.60 C686.50,159.44 687.50,159.28 688.50,159.13 C689.50,158.97 690.50,158.81 691.50,158.65 C692.50,158.50 693.50,158.34 694.50,158.19 C695.50,158.03 696.50,157.88 697.50,157.73 C698.50,157.57 699.50,157.42 700.50,157.27 C701.50,157.12 702.50,156.97 703.50,156.82 C704.50,156.67 705.50,156.52 706.50,156.37 C707.50,156.23 708.50,156.08 709.50,155.93 C710.50,155.79 711.50,155.64 712.50,155.50 C713.50,155.35 714.50,155.21 715.50,155.07 C716.50,154.92 717.50,154.78 718.50,154.64 C719.50,154.50 720.50,154.36 721.50,154.22 C722.50,154.08 723.50,153.94 724.50,153.80 C725.50,153.66 726.50,153.53 727.50,153.39 C728.50,153.25 729.50,153.12 730.50,152.98 C731.50,152.85 732.50,152.71 733.50,152.58 C734.50,152.45 735.50,152.31 736.50,152.18 C737.50,152.05 738.50,151.92 739.50,151.79 C740.50,151.66 741.50,151.53 742.50,151.40 C743.50,151.27 744.50,151.14 745.50,151.01 C746.50,150.88 747.50,150.76 748.50,150.63 C749.50,150.50 750.50,150.38 751.50,150.25 C752.50,150.13 753.50,150.00 754.50,149.88 C755.50,149.76 756.50,149.63 757.50,149.51 C758.50,149.39 759.50,149.27 760.50,149.15 C761.50,149.03 762.50,148.90 763.50,148.78 C764.50,148.67 765.50,148.55 766.50,148.43 C767.50,148.31 768.50,148.19 769.50,148.07 C770.50,147.96 771.50,147.84 772.50,147.72 C773.50,147.61 774.50,147.49 775.50,147.38 C776.50,147.26 777.50,147.15 778.50,147.04 C779.50,146.92 780.92,146.76 781.50,146.70 C782.08,146.63 781.92,146.65 782.00,146.64" stroke="#ff0000" stroke-width="1"/>
</g>
<g style="font-family:'Liberation Serif',serif;font-kerning:none" text-rendering="geometricPrecision" fill="#000" opacity="0.999">
<text x="159.6" y="49.90" font-size="20">31</text><text x="119.8" y="60.60" font-size="28.5">10</text><text x="92.5" y="60.60" font-size="28.5" text-anchor="end">2.</text>
<text x="159.6" y="142.90" font-size="20">31</text><text x="119.8" y="153.60" font-size="28.5">10</text><text x="92.5" y="153.60" font-size="28.5" text-anchor="end">2.</text>
<text x="159.6" y="188.90" font-size="20">31</text><text x="119.8" y="199.60" font-size="28.5">10</text><text x="92.5" y="199.60" font-size="28.5" text-anchor="end">4.</text>
<text x="159.6" y="234.90" font-size="20">31</text><text x="119.8" y="245.60" font-size="28.5">10</text><text x="92.5" y="245.60" font-size="28.5" text-anchor="end">6.</text>
<text x="159.6" y="280.90" font-size="20">31</text><text x="119.8" y="291.60" font-size="28.5">10</text><text x="92.5" y="291.60" font-size="28.5" text-anchor="end">8.</text>
<text x="159.6" y="326.90" font-size="20">30</text><text x="119.8" y="337.60" font-size="28.5">10</text><text x="92.5" y="337.60" font-size="28.5" text-anchor="end">1.</text>
<text x="159.6" y="372.90" font-size="20">30</text><text x="119.8" y="383.60" font-size="28.5">10</text><text x="92.5" y="383.60" font-size="28.5" text-anchor="end">1.2</text>
<text x="159.6" y="418.40" font-size="20">30</text><text x="119.8" y="429.10" font-size="28.5">10</text><text x="92.5" y="429.10" font-size="28.5" text-anchor="end">1.4</text>
<text x="180.9" y="104.80" font-size="28.5" text-anchor="end">0</text>
<text x="185.80" y="445.1" font-size="29" text-anchor="middle">200</text>
<text x="334.55" y="445.1" font-size="29" text-anchor="middle">400</text>
<text x="483.30" y="445.1" font-size="29" text-anchor="middle">600</text>
<text x="632.75" y="445.1" font-size="29" text-anchor="middle">800</text>
<text x="782.30" y="445.1" font-size="29" text-anchor="middle">1000</text>
<text x="350.7" y="25.9" font-size="34.2">Type I</text>
<text x="483.6" y="25.9" font-size="33.5">tan</text>
<text x="523.0" y="25.9" font-size="33.5" font-style="italic">β</text>
<text x="615.6" y="25.9" font-size="34.5" text-anchor="end">50</text>
<text x="418.4" y="481.7" font-size="28" font-style="italic">M</text>
<text x="442.6" y="486.6" font-size="19.5" font-style="italic">H</text>
<text x="476.6" y="481.7" font-size="27.6"><tspan font-size="28.6" dy="0.5">[</tspan><tspan dy="-0.5">GeV</tspan><tspan font-size="28.6" dy="0.5">]</tspan></text>
<g transform="translate(21.0,286.2) rotate(-90)">
<text x="0" y="0" font-size="28"><tspan font-style="italic">d</tspan><tspan font-style="italic" font-size="19.5" dy="4.9">e</tspan><tspan dy="-4.9">/e </tspan><tspan font-size="28.6" dy="0.8">[</tspan><tspan dy="-0.8">cm</tspan><tspan font-size="28.6" dy="0.8">]</tspan></text>
</g>
</g>
<g stroke="#000" fill="none">
<line x1="149.30" y1="44.20" x2="158.80" y2="44.20" stroke-width="1.25"/>
<line x1="98.90" y1="46.70" x2="112.20" y2="60.00" stroke-width="1.7"/>
<line x1="98.90" y1="60.00" x2="112.20" y2="46.70" stroke-width="1.7"/>
<line x1="149.30" y1="137.20" x2="158.80" y2="137.20" stroke-width="1.25"/>
<line x1="98.90" y1="139.70" x2="112.20" y2="153.00" stroke-width="1.7"/>
<line x1="98.90" y1="153.00" x2="112.20" y2="139.70" stroke-width="1.7"/>
<line x1="52.93" y1="146.50" x2="67.33" y2="146.50" stroke-width="1.7"/>
<line x1="149.30" y1="183.20" x2="158.80" y2="183.20" stroke-width="1.25"/>
<line x1="98.90" y1="185.70" x2="112.20" y2="199.00" stroke-width="1.7"/>
<line x1="98.90" y1="199.00" x2="112.20" y2="185.70" stroke-width="1.7"/>
<line x1="52.93" y1="192.50" x2="67.33" y2="192.50" stroke-width="1.7"/>
<line x1="149.30" y1="229.20" x2="158.80" y2="229.20" stroke-width="1.25"/>
<line x1="98.90" y1="231.70" x2="112.20" y2="245.00" stroke-width="1.7"/>
<line x1="98.90" y1="245.00" x2="112.20" y2="231.70" stroke-width="1.7"/>
<line x1="52.93" y1="238.50" x2="67.33" y2="238.50" stroke-width="1.7"/>
<line x1="149.30" y1="275.20" x2="158.80" y2="275.20" stroke-width="1.25"/>
<line x1="98.90" y1="277.70" x2="112.20" y2="291.00" stroke-width="1.7"/>
<line x1="98.90" y1="291.00" x2="112.20" y2="277.70" stroke-width="1.7"/>
<line x1="52.93" y1="284.50" x2="67.33" y2="284.50" stroke-width="1.7"/>
<line x1="149.30" y1="321.20" x2="158.80" y2="321.20" stroke-width="1.25"/>
<line x1="98.90" y1="323.70" x2="112.20" y2="337.00" stroke-width="1.7"/>
<line x1="98.90" y1="337.00" x2="112.20" y2="323.70" stroke-width="1.7"/>
<line x1="52.93" y1="330.50" x2="67.33" y2="330.50" stroke-width="1.7"/>
<line x1="149.30" y1="367.20" x2="158.80" y2="367.20" stroke-width="1.25"/>
<line x1="98.90" y1="369.70" x2="112.20" y2="383.00" stroke-width="1.7"/>
<line x1="98.90" y1="383.00" x2="112.20" y2="369.70" stroke-width="1.7"/>
<line x1="38.68" y1="376.50" x2="53.08" y2="376.50" stroke-width="1.7"/>
<line x1="149.30" y1="412.70" x2="158.80" y2="412.70" stroke-width="1.25"/>
<line x1="98.90" y1="415.20" x2="112.20" y2="428.50" stroke-width="1.7"/>
<line x1="98.90" y1="428.50" x2="112.20" y2="415.20" stroke-width="1.7"/>
<line x1="38.68" y1="422.00" x2="53.08" y2="422.00" stroke-width="1.7"/>
<line x1="552.30" y1="13.50" x2="570.60" y2="13.50" stroke-width="2.0"/>
<line x1="552.30" y1="21.00" x2="570.60" y2="21.00" stroke-width="2.0"/>
<line x1="458.40" y1="475.70" x2="466.10" y2="475.70" stroke-width="1.1"/>
<line x1="462.25" y1="471.85" x2="462.25" y2="479.55" stroke-width="1.1"/>
</g>
</svg>
</body></html>
